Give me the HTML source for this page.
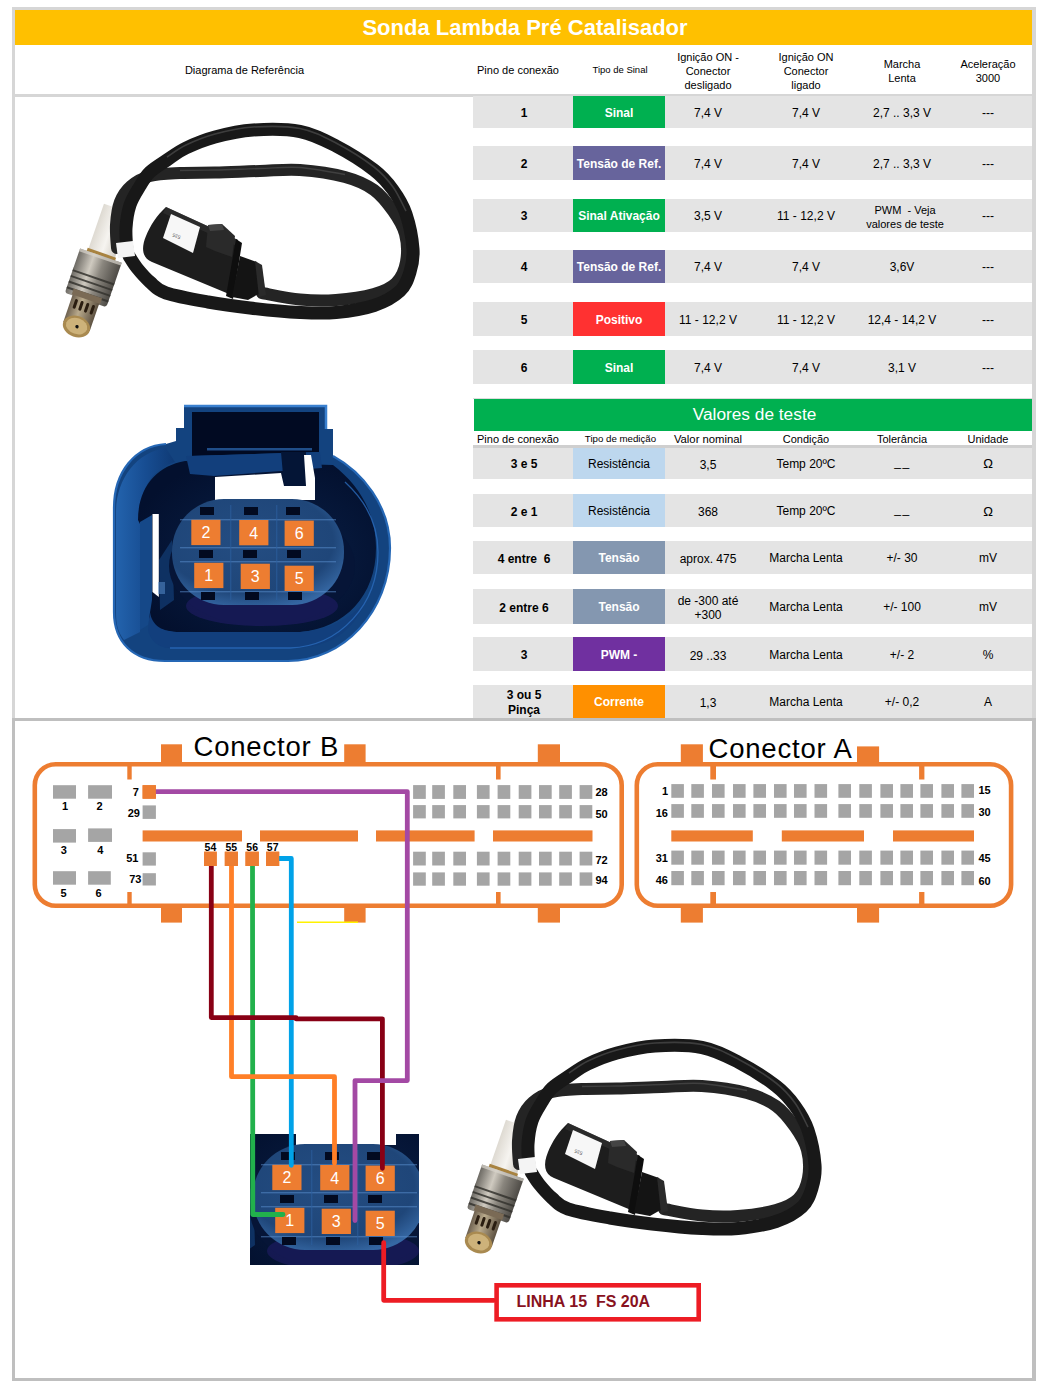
<!DOCTYPE html>
<html><head><meta charset="utf-8"><title>Sonda Lambda</title>
<style>
html,body{margin:0;padding:0;background:#fff;}
#root{position:relative;width:1045px;height:1397px;overflow:hidden;font-family:"Liberation Sans", sans-serif;background:#fff;}
</style></head><body><div id="root">
<div style="position:absolute;left:12px;top:7px;width:1024px;height:3px;background:#d6d6d6"></div>
<div style="position:absolute;left:12px;top:7px;width:3px;height:713px;background:#d6d6d6"></div>
<div style="position:absolute;left:1032px;top:7px;width:4px;height:713px;background:#d6d6d6"></div>
<div style="position:absolute;left:12px;top:718px;width:1024px;height:3px;background:#bfbfbf"></div>
<div style="position:absolute;left:12px;top:718px;width:3px;height:663px;background:#bfbfbf"></div>
<div style="position:absolute;left:1032px;top:718px;width:4px;height:663px;background:#bfbfbf"></div>
<div style="position:absolute;left:12px;top:1378px;width:1024px;height:3px;background:#bfbfbf"></div>
<div style="position:absolute;left:15px;top:10px;width:1017px;height:35px;background:#ffc000"></div>
<div style="position:absolute;left:325.00px;top:15.35px;width:400px;height:25.3px;text-align:center;font-size:22px;line-height:25.3px;font-weight:bold;color:#fff;white-space:nowrap;">Sonda Lambda Pré Catalisador</div>
<div style="position:absolute;left:15px;top:94px;width:1017px;height:3px;background:#d6d6d6"></div>
<div style="position:absolute;left:144.50px;top:63.97px;width:200px;height:12.65px;text-align:center;font-size:11px;line-height:12.65px;font-weight:normal;color:#000;white-space:nowrap;">Diagrama de Referência</div>
<div style="position:absolute;left:468.00px;top:64.17px;width:100px;height:12.65px;text-align:center;font-size:11px;line-height:12.65px;font-weight:normal;color:#000;white-space:nowrap;">Pino de conexão</div>
<div style="position:absolute;left:570.00px;top:65.04px;width:100px;height:10.92px;text-align:center;font-size:9.5px;line-height:10.92px;font-weight:normal;color:#000;white-space:nowrap;">Tipo de Sinal</div>
<div style="position:absolute;left:658.00px;top:49.50px;width:100px;height:42px;text-align:center;font-size:11px;line-height:14px;font-weight:normal;color:#000;white-space:nowrap;">Ignição ON -<br>Conector<br>desligado</div>
<div style="position:absolute;left:756.00px;top:49.50px;width:100px;height:42px;text-align:center;font-size:11px;line-height:14px;font-weight:normal;color:#000;white-space:nowrap;">Ignição ON<br>Conector<br>ligado</div>
<div style="position:absolute;left:852.00px;top:56.50px;width:100px;height:28px;text-align:center;font-size:11px;line-height:14px;font-weight:normal;color:#000;white-space:nowrap;">Marcha<br>Lenta</div>
<div style="position:absolute;left:938.00px;top:56.50px;width:100px;height:28px;text-align:center;font-size:11px;line-height:14px;font-weight:normal;color:#000;white-space:nowrap;">Aceleração<br>3000</div>
<div style="position:absolute;left:473px;top:96px;width:559px;height:32px;background:#e4e4e4"></div>
<div style="position:absolute;left:573px;top:96px;width:92px;height:32px;background:#00b050"></div>
<div style="position:absolute;left:464.00px;top:106.60px;width:120px;height:13.8px;text-align:center;font-size:12px;line-height:13.8px;font-weight:bold;color:#000;white-space:nowrap;">1</div>
<div style="position:absolute;left:559.00px;top:106.60px;width:120px;height:13.8px;text-align:center;font-size:12px;line-height:13.8px;font-weight:bold;color:#fff;white-space:nowrap;">Sinal</div>
<div style="position:absolute;left:648.00px;top:106.60px;width:120px;height:13.8px;text-align:center;font-size:12px;line-height:13.8px;font-weight:normal;color:#000;white-space:nowrap;">7,4 V</div>
<div style="position:absolute;left:746.00px;top:106.60px;width:120px;height:13.8px;text-align:center;font-size:12px;line-height:13.8px;font-weight:normal;color:#000;white-space:nowrap;">7,4 V</div>
<div style="position:absolute;left:842.00px;top:106.60px;width:120px;height:13.8px;text-align:center;font-size:12px;line-height:13.8px;font-weight:normal;color:#000;white-space:nowrap;">2,7 .. 3,3 V</div>
<div style="position:absolute;left:928.00px;top:106.60px;width:120px;height:13.8px;text-align:center;font-size:12px;line-height:13.8px;font-weight:normal;color:#000;white-space:nowrap;">---</div>
<div style="position:absolute;left:473px;top:146px;width:559px;height:34px;background:#e4e4e4"></div>
<div style="position:absolute;left:573px;top:146px;width:92px;height:34px;background:#67649c"></div>
<div style="position:absolute;left:464.00px;top:157.60px;width:120px;height:13.8px;text-align:center;font-size:12px;line-height:13.8px;font-weight:bold;color:#000;white-space:nowrap;">2</div>
<div style="position:absolute;left:559.00px;top:157.60px;width:120px;height:13.8px;text-align:center;font-size:12px;line-height:13.8px;font-weight:bold;color:#fff;white-space:nowrap;">Tensão de Ref.</div>
<div style="position:absolute;left:648.00px;top:157.60px;width:120px;height:13.8px;text-align:center;font-size:12px;line-height:13.8px;font-weight:normal;color:#000;white-space:nowrap;">7,4 V</div>
<div style="position:absolute;left:746.00px;top:157.60px;width:120px;height:13.8px;text-align:center;font-size:12px;line-height:13.8px;font-weight:normal;color:#000;white-space:nowrap;">7,4 V</div>
<div style="position:absolute;left:842.00px;top:157.60px;width:120px;height:13.8px;text-align:center;font-size:12px;line-height:13.8px;font-weight:normal;color:#000;white-space:nowrap;">2,7 .. 3,3 V</div>
<div style="position:absolute;left:928.00px;top:157.60px;width:120px;height:13.8px;text-align:center;font-size:12px;line-height:13.8px;font-weight:normal;color:#000;white-space:nowrap;">---</div>
<div style="position:absolute;left:473px;top:199px;width:559px;height:33px;background:#e4e4e4"></div>
<div style="position:absolute;left:573px;top:199px;width:92px;height:33px;background:#00b050"></div>
<div style="position:absolute;left:464.00px;top:210.10px;width:120px;height:13.8px;text-align:center;font-size:12px;line-height:13.8px;font-weight:bold;color:#000;white-space:nowrap;">3</div>
<div style="position:absolute;left:559.00px;top:210.10px;width:120px;height:13.8px;text-align:center;font-size:12px;line-height:13.8px;font-weight:bold;color:#fff;white-space:nowrap;">Sinal Ativação</div>
<div style="position:absolute;left:648.00px;top:210.10px;width:120px;height:13.8px;text-align:center;font-size:12px;line-height:13.8px;font-weight:normal;color:#000;white-space:nowrap;">3,5 V</div>
<div style="position:absolute;left:746.00px;top:210.10px;width:120px;height:13.8px;text-align:center;font-size:12px;line-height:13.8px;font-weight:normal;color:#000;white-space:nowrap;">11 - 12,2 V</div>
<div style="position:absolute;left:845.00px;top:203.00px;width:120px;height:28px;text-align:center;font-size:11px;line-height:14px;font-weight:normal;color:#000;white-space:nowrap;">PWM&nbsp; - Veja<br>valores de teste</div>
<div style="position:absolute;left:928.00px;top:210.10px;width:120px;height:13.8px;text-align:center;font-size:12px;line-height:13.8px;font-weight:normal;color:#000;white-space:nowrap;">---</div>
<div style="position:absolute;left:473px;top:250px;width:559px;height:33px;background:#e4e4e4"></div>
<div style="position:absolute;left:573px;top:250px;width:92px;height:33px;background:#67649c"></div>
<div style="position:absolute;left:464.00px;top:261.10px;width:120px;height:13.8px;text-align:center;font-size:12px;line-height:13.8px;font-weight:bold;color:#000;white-space:nowrap;">4</div>
<div style="position:absolute;left:559.00px;top:261.10px;width:120px;height:13.8px;text-align:center;font-size:12px;line-height:13.8px;font-weight:bold;color:#fff;white-space:nowrap;">Tensão de Ref.</div>
<div style="position:absolute;left:648.00px;top:261.10px;width:120px;height:13.8px;text-align:center;font-size:12px;line-height:13.8px;font-weight:normal;color:#000;white-space:nowrap;">7,4 V</div>
<div style="position:absolute;left:746.00px;top:261.10px;width:120px;height:13.8px;text-align:center;font-size:12px;line-height:13.8px;font-weight:normal;color:#000;white-space:nowrap;">7,4 V</div>
<div style="position:absolute;left:842.00px;top:261.10px;width:120px;height:13.8px;text-align:center;font-size:12px;line-height:13.8px;font-weight:normal;color:#000;white-space:nowrap;">3,6V</div>
<div style="position:absolute;left:928.00px;top:261.10px;width:120px;height:13.8px;text-align:center;font-size:12px;line-height:13.8px;font-weight:normal;color:#000;white-space:nowrap;">---</div>
<div style="position:absolute;left:473px;top:302px;width:559px;height:34px;background:#e4e4e4"></div>
<div style="position:absolute;left:573px;top:302px;width:92px;height:34px;background:#ff3131"></div>
<div style="position:absolute;left:464.00px;top:313.60px;width:120px;height:13.8px;text-align:center;font-size:12px;line-height:13.8px;font-weight:bold;color:#000;white-space:nowrap;">5</div>
<div style="position:absolute;left:559.00px;top:313.60px;width:120px;height:13.8px;text-align:center;font-size:12px;line-height:13.8px;font-weight:bold;color:#fff;white-space:nowrap;">Positivo</div>
<div style="position:absolute;left:648.00px;top:313.60px;width:120px;height:13.8px;text-align:center;font-size:12px;line-height:13.8px;font-weight:normal;color:#000;white-space:nowrap;">11 - 12,2 V</div>
<div style="position:absolute;left:746.00px;top:313.60px;width:120px;height:13.8px;text-align:center;font-size:12px;line-height:13.8px;font-weight:normal;color:#000;white-space:nowrap;">11 - 12,2 V</div>
<div style="position:absolute;left:842.00px;top:313.60px;width:120px;height:13.8px;text-align:center;font-size:12px;line-height:13.8px;font-weight:normal;color:#000;white-space:nowrap;">12,4 - 14,2 V</div>
<div style="position:absolute;left:928.00px;top:313.60px;width:120px;height:13.8px;text-align:center;font-size:12px;line-height:13.8px;font-weight:normal;color:#000;white-space:nowrap;">---</div>
<div style="position:absolute;left:473px;top:350px;width:559px;height:34px;background:#e4e4e4"></div>
<div style="position:absolute;left:573px;top:350px;width:92px;height:34px;background:#00b050"></div>
<div style="position:absolute;left:464.00px;top:361.60px;width:120px;height:13.8px;text-align:center;font-size:12px;line-height:13.8px;font-weight:bold;color:#000;white-space:nowrap;">6</div>
<div style="position:absolute;left:559.00px;top:361.60px;width:120px;height:13.8px;text-align:center;font-size:12px;line-height:13.8px;font-weight:bold;color:#fff;white-space:nowrap;">Sinal</div>
<div style="position:absolute;left:648.00px;top:361.60px;width:120px;height:13.8px;text-align:center;font-size:12px;line-height:13.8px;font-weight:normal;color:#000;white-space:nowrap;">7,4 V</div>
<div style="position:absolute;left:746.00px;top:361.60px;width:120px;height:13.8px;text-align:center;font-size:12px;line-height:13.8px;font-weight:normal;color:#000;white-space:nowrap;">7,4 V</div>
<div style="position:absolute;left:842.00px;top:361.60px;width:120px;height:13.8px;text-align:center;font-size:12px;line-height:13.8px;font-weight:normal;color:#000;white-space:nowrap;">3,1 V</div>
<div style="position:absolute;left:928.00px;top:361.60px;width:120px;height:13.8px;text-align:center;font-size:12px;line-height:13.8px;font-weight:normal;color:#000;white-space:nowrap;">---</div>
<div style="position:absolute;left:473px;top:398px;width:559px;height:1px;background:#dcdcdc"></div>
<div style="position:absolute;left:474px;top:399px;width:558px;height:31.5px;background:#00b050"></div>
<div style="position:absolute;left:654.50px;top:404.56px;width:200px;height:19.89px;text-align:center;font-size:17.3px;line-height:19.89px;font-weight:normal;color:#fff;white-space:nowrap;">Valores de teste</div>
<div style="position:absolute;left:468.00px;top:432.68px;width:100px;height:12.65px;text-align:center;font-size:11px;line-height:12.65px;font-weight:normal;color:#000;white-space:nowrap;">Pino de conexão</div>
<div style="position:absolute;left:570.50px;top:433.43px;width:100px;height:11.15px;text-align:center;font-size:9.7px;line-height:11.15px;font-weight:normal;color:#000;white-space:nowrap;">Tipo de medição</div>
<div style="position:absolute;left:658.00px;top:432.50px;width:100px;height:12.99px;text-align:center;font-size:11.3px;line-height:12.99px;font-weight:normal;color:#000;white-space:nowrap;">Valor nominal</div>
<div style="position:absolute;left:756.00px;top:432.68px;width:100px;height:12.65px;text-align:center;font-size:11px;line-height:12.65px;font-weight:normal;color:#000;white-space:nowrap;">Condição</div>
<div style="position:absolute;left:852.00px;top:432.68px;width:100px;height:12.65px;text-align:center;font-size:11px;line-height:12.65px;font-weight:normal;color:#000;white-space:nowrap;">Tolerância</div>
<div style="position:absolute;left:938.00px;top:432.68px;width:100px;height:12.65px;text-align:center;font-size:11px;line-height:12.65px;font-weight:normal;color:#000;white-space:nowrap;">Unidade</div>
<div style="position:absolute;left:473px;top:445px;width:559px;height:2.5px;background:#cfcfcf"></div>
<div style="position:absolute;left:473px;top:447.5px;width:559px;height:31.0px;background:#e4e4e4"></div>
<div style="position:absolute;left:573px;top:447.5px;width:92px;height:31.0px;background:#bdd7ee"></div>
<div style="position:absolute;left:464.00px;top:457.00px;width:120px;height:15px;text-align:center;font-size:12px;line-height:15px;font-weight:bold;color:#000;white-space:nowrap;">3 e 5</div>
<div style="position:absolute;left:559.00px;top:457.60px;width:120px;height:13.8px;text-align:center;font-size:12px;line-height:13.8px;font-weight:normal;color:#000;white-space:nowrap;">Resistência</div>
<div style="position:absolute;left:648.00px;top:457.50px;width:120px;height:14px;text-align:center;font-size:12px;line-height:14px;font-weight:normal;color:#000;white-space:nowrap;">3,5</div>
<div style="position:absolute;left:746.00px;top:457.60px;width:120px;height:13.8px;text-align:center;font-size:12px;line-height:13.8px;font-weight:normal;color:#000;white-space:nowrap;">Temp 20ºC</div>
<div style="position:absolute;left:842.50px;top:455.60px;width:120px;height:13.8px;text-align:center;font-size:12px;line-height:13.8px;font-weight:normal;color:#000;white-space:nowrap;letter-spacing:1.5px;">__</div>
<div style="position:absolute;left:928.00px;top:457.02px;width:120px;height:14.95px;text-align:center;font-size:13px;line-height:14.95px;font-weight:normal;color:#000;white-space:nowrap;font-family:"Liberation Serif",serif;">Ω</div>
<div style="position:absolute;left:473px;top:494px;width:559px;height:33px;background:#e4e4e4"></div>
<div style="position:absolute;left:573px;top:494px;width:92px;height:33px;background:#bdd7ee"></div>
<div style="position:absolute;left:464.00px;top:504.50px;width:120px;height:15px;text-align:center;font-size:12px;line-height:15px;font-weight:bold;color:#000;white-space:nowrap;">2 e 1</div>
<div style="position:absolute;left:559.00px;top:505.10px;width:120px;height:13.8px;text-align:center;font-size:12px;line-height:13.8px;font-weight:normal;color:#000;white-space:nowrap;">Resistência</div>
<div style="position:absolute;left:648.00px;top:505.00px;width:120px;height:14px;text-align:center;font-size:12px;line-height:14px;font-weight:normal;color:#000;white-space:nowrap;">368</div>
<div style="position:absolute;left:746.00px;top:505.10px;width:120px;height:13.8px;text-align:center;font-size:12px;line-height:13.8px;font-weight:normal;color:#000;white-space:nowrap;">Temp 20ºC</div>
<div style="position:absolute;left:842.50px;top:503.10px;width:120px;height:13.8px;text-align:center;font-size:12px;line-height:13.8px;font-weight:normal;color:#000;white-space:nowrap;letter-spacing:1.5px;">__</div>
<div style="position:absolute;left:928.00px;top:504.52px;width:120px;height:14.95px;text-align:center;font-size:13px;line-height:14.95px;font-weight:normal;color:#000;white-space:nowrap;font-family:"Liberation Serif",serif;">Ω</div>
<div style="position:absolute;left:473px;top:541px;width:559px;height:33px;background:#e4e4e4"></div>
<div style="position:absolute;left:573px;top:541px;width:92px;height:33px;background:#8497b0"></div>
<div style="position:absolute;left:464.00px;top:551.50px;width:120px;height:15px;text-align:center;font-size:12px;line-height:15px;font-weight:bold;color:#000;white-space:nowrap;">4 entre&nbsp; 6</div>
<div style="position:absolute;left:559.00px;top:552.10px;width:120px;height:13.8px;text-align:center;font-size:12px;line-height:13.8px;font-weight:bold;color:#fff;white-space:nowrap;">Tensão</div>
<div style="position:absolute;left:648.00px;top:552.00px;width:120px;height:14px;text-align:center;font-size:12px;line-height:14px;font-weight:normal;color:#000;white-space:nowrap;">aprox. 475</div>
<div style="position:absolute;left:746.00px;top:552.10px;width:120px;height:13.8px;text-align:center;font-size:12px;line-height:13.8px;font-weight:normal;color:#000;white-space:nowrap;">Marcha Lenta</div>
<div style="position:absolute;left:842.00px;top:552.10px;width:120px;height:13.8px;text-align:center;font-size:12px;line-height:13.8px;font-weight:normal;color:#000;white-space:nowrap;">+/- 30</div>
<div style="position:absolute;left:928.00px;top:552.10px;width:120px;height:13.8px;text-align:center;font-size:12px;line-height:13.8px;font-weight:normal;color:#000;white-space:nowrap;">mV</div>
<div style="position:absolute;left:473px;top:589px;width:559px;height:35px;background:#e4e4e4"></div>
<div style="position:absolute;left:573px;top:589px;width:92px;height:35px;background:#8497b0"></div>
<div style="position:absolute;left:464.00px;top:600.50px;width:120px;height:15px;text-align:center;font-size:12px;line-height:15px;font-weight:bold;color:#000;white-space:nowrap;">2 entre 6</div>
<div style="position:absolute;left:559.00px;top:601.10px;width:120px;height:13.8px;text-align:center;font-size:12px;line-height:13.8px;font-weight:bold;color:#fff;white-space:nowrap;">Tensão</div>
<div style="position:absolute;left:648.00px;top:594.00px;width:120px;height:28px;text-align:center;font-size:12px;line-height:14px;font-weight:normal;color:#000;white-space:nowrap;">de -300 até<br>+300</div>
<div style="position:absolute;left:746.00px;top:601.10px;width:120px;height:13.8px;text-align:center;font-size:12px;line-height:13.8px;font-weight:normal;color:#000;white-space:nowrap;">Marcha Lenta</div>
<div style="position:absolute;left:842.00px;top:601.10px;width:120px;height:13.8px;text-align:center;font-size:12px;line-height:13.8px;font-weight:normal;color:#000;white-space:nowrap;">+/- 100</div>
<div style="position:absolute;left:928.00px;top:601.10px;width:120px;height:13.8px;text-align:center;font-size:12px;line-height:13.8px;font-weight:normal;color:#000;white-space:nowrap;">mV</div>
<div style="position:absolute;left:473px;top:637px;width:559px;height:34px;background:#e4e4e4"></div>
<div style="position:absolute;left:573px;top:637px;width:92px;height:34px;background:#7030a0"></div>
<div style="position:absolute;left:464.00px;top:648.00px;width:120px;height:15px;text-align:center;font-size:12px;line-height:15px;font-weight:bold;color:#000;white-space:nowrap;">3</div>
<div style="position:absolute;left:559.00px;top:648.60px;width:120px;height:13.8px;text-align:center;font-size:12px;line-height:13.8px;font-weight:bold;color:#fff;white-space:nowrap;">PWM -</div>
<div style="position:absolute;left:648.00px;top:648.50px;width:120px;height:14px;text-align:center;font-size:12px;line-height:14px;font-weight:normal;color:#000;white-space:nowrap;">29 ..33</div>
<div style="position:absolute;left:746.00px;top:648.60px;width:120px;height:13.8px;text-align:center;font-size:12px;line-height:13.8px;font-weight:normal;color:#000;white-space:nowrap;">Marcha Lenta</div>
<div style="position:absolute;left:842.00px;top:648.60px;width:120px;height:13.8px;text-align:center;font-size:12px;line-height:13.8px;font-weight:normal;color:#000;white-space:nowrap;">+/- 2</div>
<div style="position:absolute;left:928.00px;top:648.60px;width:120px;height:13.8px;text-align:center;font-size:12px;line-height:13.8px;font-weight:normal;color:#000;white-space:nowrap;">%</div>
<div style="position:absolute;left:473px;top:685px;width:559px;height:33px;background:#e4e4e4"></div>
<div style="position:absolute;left:573px;top:685px;width:92px;height:33px;background:#ff9000"></div>
<div style="position:absolute;left:464.00px;top:688.00px;width:120px;height:30px;text-align:center;font-size:12px;line-height:15px;font-weight:bold;color:#000;white-space:nowrap;">3 ou 5<br>Pinça</div>
<div style="position:absolute;left:559.00px;top:696.10px;width:120px;height:13.8px;text-align:center;font-size:12px;line-height:13.8px;font-weight:bold;color:#fff;white-space:nowrap;">Corrente</div>
<div style="position:absolute;left:648.00px;top:696.00px;width:120px;height:14px;text-align:center;font-size:12px;line-height:14px;font-weight:normal;color:#000;white-space:nowrap;">1,3</div>
<div style="position:absolute;left:746.00px;top:696.10px;width:120px;height:13.8px;text-align:center;font-size:12px;line-height:13.8px;font-weight:normal;color:#000;white-space:nowrap;">Marcha Lenta</div>
<div style="position:absolute;left:842.00px;top:696.10px;width:120px;height:13.8px;text-align:center;font-size:12px;line-height:13.8px;font-weight:normal;color:#000;white-space:nowrap;">+/- 0,2</div>
<div style="position:absolute;left:928.00px;top:696.10px;width:120px;height:13.8px;text-align:center;font-size:12px;line-height:13.8px;font-weight:normal;color:#000;white-space:nowrap;">A</div>
<svg style="position:absolute;left:0;top:0" width="1045" height="1397" viewBox="0 0 1045 1397" font-family="Liberation Sans, sans-serif"><defs><radialGradient id="cgFace" cx="0.45" cy="0.4" r="0.65">
<stop offset="0" stop-color="#244d82"/><stop offset="0.75" stop-color="#1f4679"/><stop offset="1" stop-color="#3567a3"/></radialGradient>
<linearGradient id="cgLeftWall" x1="0" y1="0" x2="1" y2="0">
<stop offset="0" stop-color="#2363ad"/><stop offset="0.5" stop-color="#174d92"/><stop offset="1" stop-color="#0f3a75"/></linearGradient>
<radialGradient id="cgCav" cx="0.55" cy="0.55" r="0.6">
<stop offset="0" stop-color="#0a2149"/><stop offset="1" stop-color="#03102e"/></radialGradient><linearGradient id="sgCable" x1="0" y1="0" x2="0" y2="1">
<stop offset="0" stop-color="#2b2b2b"/><stop offset="1" stop-color="#0d0d0d"/></linearGradient>
<linearGradient id="sgMetal" x1="0" y1="0" x2="1" y2="0">
<stop offset="0" stop-color="#6d6a64"/><stop offset="0.35" stop-color="#cfcac0"/><stop offset="0.6" stop-color="#8a867e"/><stop offset="1" stop-color="#4e4b46"/></linearGradient>
<linearGradient id="sgBrass" x1="0" y1="0" x2="1" y2="0">
<stop offset="0" stop-color="#6e6150"/><stop offset="0.4" stop-color="#b9aa8c"/><stop offset="1" stop-color="#5e5242"/></linearGradient>
<linearGradient id="sgCer" x1="0" y1="0" x2="1" y2="0">
<stop offset="0" stop-color="#dedad2"/><stop offset="0.5" stop-color="#f6f4f0"/><stop offset="1" stop-color="#d2cdc4"/></linearGradient></defs><g id="connG"><path d="M114,508 C114,472 135,446 166,444 L176,441 L176,428 L184,428 L184,406 L326,406 L326,429 L333,429 L333,456 C362,472 390,505 390,548 C390,612 343,661 288,661 L165,661 C133,661 114,642 114,612 Z" fill="#13437f"/>
<path d="M116,512 C116,480 136,452 166,448 L175,462 C150,470 140,490 140,520 L140,632 L124,640 C118,632 116,625 116,612 Z" fill="url(#cgLeftWall)"/>
<path d="M138,520 C138,488 156,466 185,461 L333,465 C358,484 376,512 376,548 C376,596 345,628 300,632 L180,632 C160,632 150,626 148,612 L148,540 Z" fill="url(#cgCav)"/>
<path d="M150,612 C152,626 162,632 180,632 L300,632 C330,630 352,618 366,600 C350,640 320,648 290,648 L170,648 C158,648 150,640 148,630 Z" fill="#123f7d"/>
<path d="M140,522 L152,515 L152,600 L148,625 L140,630 Z" fill="#154888"/>
<path d="M159,560 L172,540 L174,600 L160,610 Z" fill="#0f3467" opacity="0.9"/>
<path d="M192,412 L319,412 L319,452 L192,456 Z" fill="#010a22"/>
<path d="M186,456 L320,452 L322,468 L214,476 L190,474 Z" fill="#123f7c"/>
<rect x="207" y="448" width="105" height="2.5" fill="#2d6bb5" opacity="0.7"/>
<path d="M281,452 L306,452 L306,486 L284,486 Z" fill="#041536"/>
<path d="M215,477 L281,473 L284,486 L306,486 L304,455 L311,455 L315,478 L315,500 L215,500 Z" fill="#fff"/>
<ellipse cx="262" cy="566" rx="93" ry="60" fill="#061537"/>
<ellipse cx="262" cy="606" rx="76" ry="20" fill="#1f1c66" opacity="0.6"/>
<rect x="172" y="499" width="172" height="106" rx="52" ry="52" fill="url(#cgFace)"/>
<rect x="180" y="519" width="156" height="1.4" fill="#5a8fd0" opacity="0.5"/>
<rect x="180" y="547" width="156" height="1.4" fill="#5a8fd0" opacity="0.5"/>
<rect x="180" y="561" width="156" height="1.4" fill="#5a8fd0" opacity="0.5"/>
<rect x="180" y="591" width="156" height="1.4" fill="#5a8fd0" opacity="0.5"/>
<rect x="230" y="505" width="1.4" height="95" fill="#2b5f9e" opacity="0.6"/>
<rect x="276" y="505" width="1.4" height="95" fill="#2b5f9e" opacity="0.6"/>
<rect x="200" y="507" width="14" height="8" fill="#020a20"/>
<rect x="244" y="507" width="14" height="8" fill="#020a20"/>
<rect x="286" y="507" width="14" height="8" fill="#020a20"/>
<rect x="199" y="550" width="14" height="8" fill="#020a20"/>
<rect x="243" y="550" width="14" height="8" fill="#020a20"/>
<rect x="287" y="550" width="14" height="8" fill="#020a20"/>
<rect x="201" y="592" width="14" height="8" fill="#020a20"/>
<rect x="245" y="592" width="14" height="8" fill="#020a20"/>
<rect x="288" y="592" width="14" height="8" fill="#020a20"/>
<path d="M152.5,514 L158.8,514 L158.8,597 L152.5,592 Z" fill="#fff"/>
<rect x="158" y="582" width="7" height="12" fill="#5b93d3" opacity="0.5"/>
<path d="M184,406 L326,406 L326,429" fill="none" stroke="#3a80cf" stroke-width="2.5"/>
<path d="M333,456 C362,472 390,505 390,548 C390,612 343,661 288,661 L165,661 C133,661 114,642 114,612 L114,508 C114,472 135,446 166,444" fill="none" stroke="#2567b5" stroke-width="2.2"/>
<path d="M345,482 C370,505 378,530 378,552 C378,605 340,646 290,648 L170,648" fill="none" stroke="#2a6cbb" stroke-width="1.3" opacity="0.8"/>
<rect x="191.3" y="519.8" width="29.2" height="25.3" fill="#ed7d31"/>
<text x="205.9" y="538.3" text-anchor="middle" font-size="16" fill="#fff">2</text>
<rect x="239.2" y="520" width="29.2" height="25.3" fill="#ed7d31"/>
<text x="253.8" y="538.5" text-anchor="middle" font-size="16" fill="#fff">4</text>
<rect x="284.6" y="520.6" width="29.2" height="25.3" fill="#ed7d31"/>
<text x="299.2" y="539.1" text-anchor="middle" font-size="16" fill="#fff">6</text>
<rect x="194.2" y="562.8" width="29.2" height="25.3" fill="#ed7d31"/>
<text x="208.8" y="581.3" text-anchor="middle" font-size="16" fill="#fff">1</text>
<rect x="240.7" y="563.7" width="29.2" height="25.3" fill="#ed7d31"/>
<text x="255.3" y="582.2" text-anchor="middle" font-size="16" fill="#fff">3</text>
<rect x="284.6" y="565.7" width="29.2" height="25.3" fill="#ed7d31"/>
<text x="299.2" y="584.2" text-anchor="middle" font-size="16" fill="#fff">5</text></g><g id="sensorG"><g transform="translate(76.5,326.5) rotate(19)"><rect x="-14" y="-125" width="28" height="50" fill="url(#sgCer)"/><rect x="-15" y="-78" width="30" height="4" fill="#a88340"/><rect x="-22" y="-75" width="44" height="22" fill="url(#sgMetal)"/><rect x="-22" y="-75" width="44" height="3" fill="#d8d4cc" opacity="0.7"/><rect x="-22" y="-57" width="44" height="29" rx="3" fill="url(#sgMetal)"/><rect x="-22" y="-53" width="44" height="2" fill="#34322e" opacity="0.85"/><rect x="-22" y="-47" width="44" height="2" fill="#34322e" opacity="0.85"/><rect x="-22" y="-41" width="44" height="2" fill="#34322e" opacity="0.85"/><rect x="-22" y="-35" width="44" height="2" fill="#34322e" opacity="0.85"/><rect x="-14" y="-34" width="28" height="34" fill="url(#sgBrass)"/><rect x="-15" y="-35" width="30" height="6" fill="#7a6a55"/><rect x="-10" y="-26" width="3" height="10" rx="1.5" fill="#2a1d10"/><rect x="-4" y="-26" width="3" height="10" rx="1.5" fill="#2a1d10"/><rect x="2" y="-26" width="3" height="10" rx="1.5" fill="#2a1d10"/><rect x="8" y="-26" width="3" height="10" rx="1.5" fill="#2a1d10"/><ellipse cx="0" cy="0" rx="14" ry="10.5" fill="#a98a50"/><ellipse cx="0" cy="-0.5" rx="11" ry="8" fill="#cdb27a"/><circle cx="0.5" cy="0" r="1.7" fill="#111"/></g>
<path d="M117.0,248.0 C116.8,244.2 115.5,232.7 116.0,225.0 C116.5,217.3 117.5,208.5 120.0,202.0 C122.5,195.5 126.0,190.3 131.0,186.0 C136.0,181.7 141.8,178.2 150.0,176.0 C158.2,173.8 169.2,173.6 180.0,173.0 C190.8,172.4 201.7,172.8 215.0,172.5 C228.3,172.2 245.8,171.4 260.0,171.0 C274.2,170.6 285.8,169.0 300.0,170.0 C314.2,171.0 332.7,173.7 345.0,177.0 C357.3,180.3 366.0,184.3 374.0,190.0 C382.0,195.7 387.8,203.7 393.0,211.0 C398.2,218.3 402.8,225.5 405.0,234.0 C407.2,242.5 407.5,253.8 406.0,262.0 C404.5,270.2 401.3,277.7 396.0,283.0 C390.7,288.3 384.0,291.2 374.0,294.0 C364.0,296.8 348.3,299.1 336.0,300.0 C323.7,300.9 312.3,300.7 300.0,299.5 C287.7,298.3 268.3,294.1 262.0,293.0" fill="none" stroke="#242424" stroke-width="12" stroke-linecap="round" stroke-linejoin="round"/>
<path d="M127.0,252.0 C126.8,248.0 125.5,235.8 126.0,228.0 C126.5,220.2 127.7,212.0 130.0,205.0 C132.3,198.0 136.7,191.5 140.0,186.0 C143.3,180.5 145.5,176.3 150.0,172.0 C154.5,167.7 161.0,164.0 167.0,160.0 C173.0,156.0 178.0,151.8 186.0,148.0 C194.0,144.2 203.8,140.0 215.0,137.0 C226.2,134.0 238.8,130.9 253.0,130.0 C267.2,129.1 286.2,128.8 300.0,131.5 C313.8,134.2 323.7,139.6 336.0,146.0 C348.3,152.4 364.5,162.7 374.0,170.0 C383.5,177.3 387.7,182.7 393.0,190.0 C398.3,197.3 402.7,204.2 406.0,214.0 C409.3,223.8 412.3,239.3 413.0,249.0 C413.7,258.7 412.2,265.0 410.0,272.0 C407.8,279.0 406.0,285.4 400.0,291.0 C394.0,296.6 384.7,301.9 374.0,305.5 C363.3,309.1 348.3,311.3 336.0,312.5 C323.7,313.7 314.3,313.2 300.0,312.5 C285.7,311.8 265.3,309.8 250.0,308.0 C234.7,306.2 222.0,304.5 208.0,302.0 C194.0,299.5 175.7,296.3 166.0,293.0 C156.3,289.7 154.8,286.2 150.0,282.0 C145.2,277.8 140.5,272.3 137.0,268.0 C133.5,263.7 130.3,258.0 129.0,256.0" fill="none" stroke="#181818" stroke-width="13" stroke-linecap="round" stroke-linejoin="round"/>
<path d="M167.0,160.0 C170.2,158.0 178.0,151.8 186.0,148.0 C194.0,144.2 203.8,140.0 215.0,137.0 C226.2,134.0 238.8,130.9 253.0,130.0 C267.2,129.1 286.2,128.8 300.0,131.5 C313.8,134.2 323.7,139.6 336.0,146.0 C348.3,152.4 364.5,162.7 374.0,170.0 C383.5,177.3 387.7,182.7 393.0,190.0 C398.3,197.3 403.8,210.0 406.0,214.0" fill="none" stroke="#5c5c5c" stroke-width="1.6" opacity="0.55" transform="translate(0,-3)"/>
<path d="M180.0,173.0 C185.8,172.9 201.7,172.8 215.0,172.5 C228.3,172.2 245.8,171.4 260.0,171.0 C274.2,170.6 285.8,169.0 300.0,170.0 C314.2,171.0 337.5,175.8 345.0,177.0" fill="none" stroke="#5c5c5c" stroke-width="1.4" opacity="0.5" transform="translate(0,-2.5)"/>
<path d="M116,243 L133,241 L135,256 L118,258 Z" fill="#f4f4f4"/>
<path d="M166,207 L238,240 L229,294 L152,262 C142,258 141,248 146,236 C150,226 157,215 166,207 Z" fill="#1d1d1d"/>
<path d="M166,207 L238,240 L237,246 L163,213 Z" fill="#333" opacity="0.6"/>
<path d="M171,214 L200,227 L193,253 L163,238 Z" fill="#f7f7f7"/>
<text x="0" y="0" font-size="5" fill="#555" transform="translate(181,236) rotate(200)">535</text>
<path d="M208,225 L222,224 L235,236 L232,257 L215,251 L206,247 Z" fill="#2a2a2a"/>
<path d="M208,225 L222,224 L224,230 L210,231 Z" fill="#444"/>
<path d="M236,239 L242,243 L233,299 L226,296 Z" fill="#0e0e0e"/>
<path d="M240,256 L257,262 L262,292 L248,300 L232,297 Z" fill="#141414"/>
<path d="M255,261 L262,265 L266,295 L259,297 Z" fill="#2a2a2a"/></g><use href="#sensorG" transform="translate(402,916)"/><rect x="34.8" y="764.3" width="586.9" height="141.4" rx="21" ry="21" fill="none" stroke="#ed7d31" stroke-width="4.6"/>
<rect x="636.8" y="764.3" width="374.29999999999995" height="141.4" rx="21" ry="21" fill="none" stroke="#ed7d31" stroke-width="4.6"/>
<rect x="161.00" y="744.30" width="21.00" height="19.70" fill="#ed7d31" />
<rect x="161.00" y="906.00" width="21.00" height="16.60" fill="#ed7d31" />
<rect x="344.20" y="744.30" width="21.40" height="19.70" fill="#ed7d31" />
<rect x="344.20" y="906.00" width="21.40" height="16.60" fill="#ed7d31" />
<rect x="537.80" y="744.30" width="22.20" height="19.70" fill="#ed7d31" />
<rect x="537.80" y="906.00" width="22.20" height="16.60" fill="#ed7d31" />
<rect x="680.80" y="744.30" width="22.10" height="19.70" fill="#ed7d31" />
<rect x="680.80" y="906.00" width="22.10" height="16.60" fill="#ed7d31" />
<rect x="857.00" y="746.40" width="22.10" height="17.60" fill="#ed7d31" />
<rect x="857.00" y="906.00" width="22.10" height="16.60" fill="#ed7d31" />
<rect x="127.30" y="765.00" width="4.40" height="14.50" fill="#ed7d31" />
<rect x="127.30" y="892.00" width="4.40" height="13.00" fill="#ed7d31" />
<rect x="496.00" y="765.00" width="4.60" height="14.50" fill="#ed7d31" />
<rect x="496.00" y="892.00" width="4.60" height="13.00" fill="#ed7d31" />
<rect x="710.30" y="765.00" width="5.70" height="14.50" fill="#ed7d31" />
<rect x="710.30" y="892.00" width="5.70" height="13.00" fill="#ed7d31" />
<rect x="919.10" y="765.00" width="5.30" height="14.50" fill="#ed7d31" />
<rect x="919.10" y="892.00" width="5.30" height="13.00" fill="#ed7d31" />
<rect x="142.60" y="830.40" width="99.40" height="11.10" fill="#ed7d31" />
<rect x="260.00" y="830.40" width="98.00" height="11.10" fill="#ed7d31" />
<rect x="376.00" y="830.40" width="98.60" height="11.10" fill="#ed7d31" />
<rect x="493.00" y="830.40" width="99.50" height="11.10" fill="#ed7d31" />
<rect x="671.30" y="830.40" width="81.50" height="11.10" fill="#ed7d31" />
<rect x="781.80" y="830.40" width="82.20" height="11.10" fill="#ed7d31" />
<rect x="893.00" y="830.40" width="81.00" height="11.10" fill="#ed7d31" />
<rect x="53.00" y="785.20" width="23.00" height="13.50" fill="#a5a5a5" />
<rect x="88.10" y="785.20" width="23.90" height="13.50" fill="#a5a5a5" />
<rect x="53.00" y="829.10" width="23.00" height="13.50" fill="#a5a5a5" />
<rect x="88.10" y="828.40" width="23.90" height="13.50" fill="#a5a5a5" />
<rect x="53.00" y="871.20" width="23.00" height="13.50" fill="#a5a5a5" />
<rect x="88.10" y="871.20" width="22.70" height="13.50" fill="#a5a5a5" />
<text x="65.10" y="809.50" text-anchor="middle" font-size="11" font-weight="bold" fill="#000" >1</text>
<text x="99.60" y="809.50" text-anchor="middle" font-size="11" font-weight="bold" fill="#000" >2</text>
<text x="63.70" y="854.00" text-anchor="middle" font-size="11" font-weight="bold" fill="#000" >3</text>
<text x="100.30" y="854.00" text-anchor="middle" font-size="11" font-weight="bold" fill="#000" >4</text>
<text x="63.60" y="897.00" text-anchor="middle" font-size="11" font-weight="bold" fill="#000" >5</text>
<text x="98.50" y="897.00" text-anchor="middle" font-size="11" font-weight="bold" fill="#000" >6</text>
<rect x="142.60" y="785.20" width="13.30" height="13.50" fill="#ed7d31" />
<rect x="142.60" y="805.40" width="13.30" height="13.50" fill="#a5a5a5" />
<rect x="142.60" y="852.30" width="13.30" height="13.30" fill="#a5a5a5" />
<rect x="142.60" y="873.20" width="13.30" height="12.30" fill="#a5a5a5" />
<text x="138.80" y="796.00" text-anchor="end" font-size="11" font-weight="bold" fill="#000" >7</text>
<text x="140.00" y="816.70" text-anchor="end" font-size="11" font-weight="bold" fill="#000" >29</text>
<text x="138.50" y="862.20" text-anchor="end" font-size="11" font-weight="bold" fill="#000" >51</text>
<text x="141.40" y="883.40" text-anchor="end" font-size="11" font-weight="bold" fill="#000" >73</text>
<rect x="204.10" y="851.70" width="12.60" height="14.30" fill="#ed7d31" />
<text x="210.40" y="851.00" text-anchor="middle" font-size="10.5" font-weight="bold" fill="#000" >54</text>
<rect x="224.80" y="851.70" width="13.10" height="14.30" fill="#ed7d31" />
<text x="231.35" y="851.00" text-anchor="middle" font-size="10.5" font-weight="bold" fill="#000" >55</text>
<rect x="245.50" y="851.70" width="13.30" height="14.30" fill="#ed7d31" />
<text x="252.15" y="851.00" text-anchor="middle" font-size="10.5" font-weight="bold" fill="#000" >56</text>
<rect x="266.10" y="851.70" width="13.10" height="14.30" fill="#ed7d31" />
<text x="272.65" y="851.00" text-anchor="middle" font-size="10.5" font-weight="bold" fill="#000" >57</text>
<rect x="413.10" y="785.10" width="12.70" height="13.80" fill="#a5a5a5" />
<rect x="432.20" y="785.10" width="12.70" height="13.80" fill="#a5a5a5" />
<rect x="453.30" y="785.10" width="12.70" height="13.80" fill="#a5a5a5" />
<rect x="476.90" y="785.10" width="12.70" height="13.80" fill="#a5a5a5" />
<rect x="497.60" y="785.10" width="12.70" height="13.80" fill="#a5a5a5" />
<rect x="518.70" y="785.10" width="12.70" height="13.80" fill="#a5a5a5" />
<rect x="539.00" y="785.10" width="12.70" height="13.80" fill="#a5a5a5" />
<rect x="559.20" y="785.10" width="12.70" height="13.80" fill="#a5a5a5" />
<rect x="579.60" y="785.10" width="12.70" height="13.80" fill="#a5a5a5" />
<rect x="413.10" y="805.10" width="12.70" height="13.30" fill="#a5a5a5" />
<rect x="432.20" y="805.10" width="12.70" height="13.30" fill="#a5a5a5" />
<rect x="453.30" y="805.10" width="12.70" height="13.30" fill="#a5a5a5" />
<rect x="476.90" y="805.10" width="12.70" height="13.30" fill="#a5a5a5" />
<rect x="497.60" y="805.10" width="12.70" height="13.30" fill="#a5a5a5" />
<rect x="518.70" y="805.10" width="12.70" height="13.30" fill="#a5a5a5" />
<rect x="539.00" y="805.10" width="12.70" height="13.30" fill="#a5a5a5" />
<rect x="559.20" y="805.10" width="12.70" height="13.30" fill="#a5a5a5" />
<rect x="579.60" y="805.10" width="12.70" height="13.30" fill="#a5a5a5" />
<rect x="413.10" y="851.70" width="12.70" height="13.80" fill="#a5a5a5" />
<rect x="432.20" y="851.70" width="12.70" height="13.80" fill="#a5a5a5" />
<rect x="453.30" y="851.70" width="12.70" height="13.80" fill="#a5a5a5" />
<rect x="476.90" y="851.70" width="12.70" height="13.80" fill="#a5a5a5" />
<rect x="497.60" y="851.70" width="12.70" height="13.80" fill="#a5a5a5" />
<rect x="518.70" y="851.70" width="12.70" height="13.80" fill="#a5a5a5" />
<rect x="539.00" y="851.70" width="12.70" height="13.80" fill="#a5a5a5" />
<rect x="559.20" y="851.70" width="12.70" height="13.80" fill="#a5a5a5" />
<rect x="579.60" y="851.70" width="12.70" height="13.80" fill="#a5a5a5" />
<rect x="413.10" y="872.40" width="12.70" height="13.30" fill="#a5a5a5" />
<rect x="432.20" y="872.40" width="12.70" height="13.30" fill="#a5a5a5" />
<rect x="453.30" y="872.40" width="12.70" height="13.30" fill="#a5a5a5" />
<rect x="476.90" y="872.40" width="12.70" height="13.30" fill="#a5a5a5" />
<rect x="497.60" y="872.40" width="12.70" height="13.30" fill="#a5a5a5" />
<rect x="518.70" y="872.40" width="12.70" height="13.30" fill="#a5a5a5" />
<rect x="539.00" y="872.40" width="12.70" height="13.30" fill="#a5a5a5" />
<rect x="559.20" y="872.40" width="12.70" height="13.30" fill="#a5a5a5" />
<rect x="579.60" y="872.40" width="12.70" height="13.30" fill="#a5a5a5" />
<text x="595.50" y="795.60" text-anchor="start" font-size="11" font-weight="bold" fill="#000" >28</text>
<text x="595.50" y="817.80" text-anchor="start" font-size="11" font-weight="bold" fill="#000" >50</text>
<text x="595.50" y="863.80" text-anchor="start" font-size="11" font-weight="bold" fill="#000" >72</text>
<text x="595.50" y="884.40" text-anchor="start" font-size="11" font-weight="bold" fill="#000" >94</text>
<rect x="671.30" y="784.10" width="12.60" height="13.70" fill="#a5a5a5" />
<rect x="691.30" y="784.10" width="12.60" height="13.70" fill="#a5a5a5" />
<rect x="712.00" y="784.10" width="12.60" height="13.70" fill="#a5a5a5" />
<rect x="733.00" y="784.10" width="12.60" height="13.70" fill="#a5a5a5" />
<rect x="753.40" y="784.10" width="12.60" height="13.70" fill="#a5a5a5" />
<rect x="774.00" y="784.10" width="12.60" height="13.70" fill="#a5a5a5" />
<rect x="794.00" y="784.10" width="12.60" height="13.70" fill="#a5a5a5" />
<rect x="814.50" y="784.10" width="12.60" height="13.70" fill="#a5a5a5" />
<rect x="838.40" y="784.10" width="12.60" height="13.70" fill="#a5a5a5" />
<rect x="859.30" y="784.10" width="12.60" height="13.70" fill="#a5a5a5" />
<rect x="880.40" y="784.10" width="12.60" height="13.70" fill="#a5a5a5" />
<rect x="900.40" y="784.10" width="12.60" height="13.70" fill="#a5a5a5" />
<rect x="920.40" y="784.10" width="12.60" height="13.70" fill="#a5a5a5" />
<rect x="941.40" y="784.10" width="12.60" height="13.70" fill="#a5a5a5" />
<rect x="961.40" y="784.10" width="12.60" height="13.70" fill="#a5a5a5" />
<rect x="671.30" y="804.10" width="12.60" height="13.70" fill="#a5a5a5" />
<rect x="691.30" y="804.10" width="12.60" height="13.70" fill="#a5a5a5" />
<rect x="712.00" y="804.10" width="12.60" height="13.70" fill="#a5a5a5" />
<rect x="733.00" y="804.10" width="12.60" height="13.70" fill="#a5a5a5" />
<rect x="753.40" y="804.10" width="12.60" height="13.70" fill="#a5a5a5" />
<rect x="774.00" y="804.10" width="12.60" height="13.70" fill="#a5a5a5" />
<rect x="794.00" y="804.10" width="12.60" height="13.70" fill="#a5a5a5" />
<rect x="814.50" y="804.10" width="12.60" height="13.70" fill="#a5a5a5" />
<rect x="838.40" y="804.10" width="12.60" height="13.70" fill="#a5a5a5" />
<rect x="859.30" y="804.10" width="12.60" height="13.70" fill="#a5a5a5" />
<rect x="880.40" y="804.10" width="12.60" height="13.70" fill="#a5a5a5" />
<rect x="900.40" y="804.10" width="12.60" height="13.70" fill="#a5a5a5" />
<rect x="920.40" y="804.10" width="12.60" height="13.70" fill="#a5a5a5" />
<rect x="941.40" y="804.10" width="12.60" height="13.70" fill="#a5a5a5" />
<rect x="961.40" y="804.10" width="12.60" height="13.70" fill="#a5a5a5" />
<rect x="671.30" y="850.60" width="12.60" height="14.10" fill="#a5a5a5" />
<rect x="691.30" y="850.60" width="12.60" height="14.10" fill="#a5a5a5" />
<rect x="712.00" y="850.60" width="12.60" height="14.10" fill="#a5a5a5" />
<rect x="733.00" y="850.60" width="12.60" height="14.10" fill="#a5a5a5" />
<rect x="753.40" y="850.60" width="12.60" height="14.10" fill="#a5a5a5" />
<rect x="774.00" y="850.60" width="12.60" height="14.10" fill="#a5a5a5" />
<rect x="794.00" y="850.60" width="12.60" height="14.10" fill="#a5a5a5" />
<rect x="814.50" y="850.60" width="12.60" height="14.10" fill="#a5a5a5" />
<rect x="838.40" y="850.60" width="12.60" height="14.10" fill="#a5a5a5" />
<rect x="859.30" y="850.60" width="12.60" height="14.10" fill="#a5a5a5" />
<rect x="880.40" y="850.60" width="12.60" height="14.10" fill="#a5a5a5" />
<rect x="900.40" y="850.60" width="12.60" height="14.10" fill="#a5a5a5" />
<rect x="920.40" y="850.60" width="12.60" height="14.10" fill="#a5a5a5" />
<rect x="941.40" y="850.60" width="12.60" height="14.10" fill="#a5a5a5" />
<rect x="961.40" y="850.60" width="12.60" height="14.10" fill="#a5a5a5" />
<rect x="671.30" y="871.00" width="12.60" height="14.20" fill="#a5a5a5" />
<rect x="691.30" y="871.00" width="12.60" height="14.20" fill="#a5a5a5" />
<rect x="712.00" y="871.00" width="12.60" height="14.20" fill="#a5a5a5" />
<rect x="733.00" y="871.00" width="12.60" height="14.20" fill="#a5a5a5" />
<rect x="753.40" y="871.00" width="12.60" height="14.20" fill="#a5a5a5" />
<rect x="774.00" y="871.00" width="12.60" height="14.20" fill="#a5a5a5" />
<rect x="794.00" y="871.00" width="12.60" height="14.20" fill="#a5a5a5" />
<rect x="814.50" y="871.00" width="12.60" height="14.20" fill="#a5a5a5" />
<rect x="838.40" y="871.00" width="12.60" height="14.20" fill="#a5a5a5" />
<rect x="859.30" y="871.00" width="12.60" height="14.20" fill="#a5a5a5" />
<rect x="880.40" y="871.00" width="12.60" height="14.20" fill="#a5a5a5" />
<rect x="900.40" y="871.00" width="12.60" height="14.20" fill="#a5a5a5" />
<rect x="920.40" y="871.00" width="12.60" height="14.20" fill="#a5a5a5" />
<rect x="941.40" y="871.00" width="12.60" height="14.20" fill="#a5a5a5" />
<rect x="961.40" y="871.00" width="12.60" height="14.20" fill="#a5a5a5" />
<text x="668.00" y="795.00" text-anchor="end" font-size="11" font-weight="bold" fill="#000" >1</text>
<text x="668.00" y="816.50" text-anchor="end" font-size="11" font-weight="bold" fill="#000" >16</text>
<text x="668.00" y="862.40" text-anchor="end" font-size="11" font-weight="bold" fill="#000" >31</text>
<text x="668.00" y="884.00" text-anchor="end" font-size="11" font-weight="bold" fill="#000" >46</text>
<text x="978.50" y="794.40" text-anchor="start" font-size="11" font-weight="bold" fill="#000" >15</text>
<text x="978.50" y="815.50" text-anchor="start" font-size="11" font-weight="bold" fill="#000" >30</text>
<text x="978.50" y="861.80" text-anchor="start" font-size="11" font-weight="bold" fill="#000" >45</text>
<text x="978.50" y="884.50" text-anchor="start" font-size="11" font-weight="bold" fill="#000" >60</text>
<text x="193.5" y="756.3" font-size="27.5" fill="#000" letter-spacing="0.8">Conector B</text>
<text x="708.5" y="757.6" font-size="27.5" fill="#000" letter-spacing="0.8">Conector A</text>
<line x1="297" y1="922.3" x2="358" y2="922.3" stroke="#fff200" stroke-width="1.6"/><clipPath id="cpSmall"><rect x="250" y="1134" width="169" height="131"/></clipPath><g clip-path="url(#cpSmall)"><rect x="250" y="1134" width="169" height="131" fill="#020a1f"/><use href="#connG" transform="translate(81,645)"/></g><polyline points="252.5,860 252.8,1214.5 283,1214.5" fill="none" stroke="#22b14c" stroke-width="4.8" stroke-linejoin="round" stroke-linecap="round"/>
<polyline points="273,858.5 291.3,858.5 291.3,1165.3" fill="none" stroke="#00a2e8" stroke-width="4.8" stroke-linejoin="round" stroke-linecap="round"/>
<polyline points="231.5,860 231.5,1076.7 334.5,1076.7 334.5,1163.3" fill="none" stroke="#ff7f27" stroke-width="4.8" stroke-linejoin="round" stroke-linecap="round"/>
<polyline points="211.3,860 211.3,1017.6 296,1017.6 296,1018.8 382.4,1018.8 382.4,1168.3" fill="none" stroke="#880015" stroke-width="4.8" stroke-linejoin="round" stroke-linecap="round"/>
<polyline points="150,791.6 407.3,791.6 407.3,1080.6 355,1080.6 355,1220.6" fill="none" stroke="#a349a4" stroke-width="4.8" stroke-linejoin="round" stroke-linecap="round"/>
<rect x="142.60" y="785.20" width="13.30" height="13.50" fill="#ed7d31" />
<rect x="204.10" y="851.70" width="12.60" height="14.30" fill="#ed7d31" />
<rect x="224.80" y="851.70" width="13.10" height="14.30" fill="#ed7d31" />
<rect x="245.50" y="851.70" width="13.30" height="14.30" fill="#ed7d31" />
<rect x="266.10" y="851.70" width="13.10" height="14.30" fill="#ed7d31" />
<polyline points="383.7,1242.7 383.7,1300.3 494,1300.3" fill="none" stroke="#ed1c24" stroke-width="4.8" stroke-linejoin="round" stroke-linecap="round"/><rect x="496.6" y="1285.3" width="202.1" height="34" fill="none" stroke="#ed1c24" stroke-width="4.6"/>
<text x="516.5" y="1307.2" font-size="16" font-weight="bold" fill="#88121e">LINHA 15&#160; FS 20A</text></svg>
</div></body></html>
